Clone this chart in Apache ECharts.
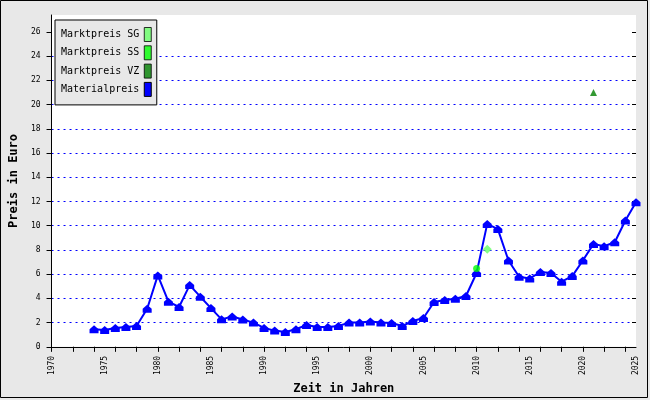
<!DOCTYPE html>
<html>
<head>
<meta charset="utf-8">
<script src="https://cdn.jsdelivr.net/npm/echarts@6/dist/echarts.min.js"></script>
<style>
html,body{margin:0;padding:0;background:#e8e8e8;}
#c{width:650px;height:400px;}
</style>
</head>
<body>
<div id="c"></div>
<script>
var years = [1974,1975,1976,1977,1978,1979,1980,1981,1982,1983,1984,1985,1986,1987,1988,1989,1990,1991,1992,1993,1994,1995,1996,1997,1998,1999,2000,2001,2002,2003,2004,2005,2006,2007,2008,2009,2010,2011,2012,2013,2014,2015,2016,2017,2018,2019,2020,2021,2022,2023,2024,2025];
var materialpreis = [1.45,1.39,1.56,1.64,1.72,3.15,5.9,3.73,3.29,5.1,4.14,3.2,2.27,2.5,2.25,2.0,1.56,1.34,1.23,1.45,1.8,1.64,1.64,1.72,2.0,2.0,2.1,2.0,1.97,1.72,2.13,2.38,3.7,3.86,3.97,4.2,6.1,10.15,9.72,7.13,5.79,5.65,6.17,6.09,5.38,5.84,7.13,8.5,8.31,8.64,10.43,11.94];
var sgYears = [2011], sgValues = [8.05];
var ssYears = [2010], ssValues = [6.47];
var vzYears = [2021], vzValues = [21.0];
var xTickValues = [1970,1972,1974,1976,1978,1980,1982,1984,1986,1988,1990,1992,1994,1996,1998,2000,2002,2004,2006,2008,2010,2012,2014,2016,2018,2020,2022,2024];
var xLabelValues = [1970,1975,1980,1985,1990,1995,2000,2005,2010,2015,2020,2025];
var yTickValues = [0,2,4,6,8,10,12,14,16,18,20,22,24,26];
var seriesNames = ['Marktpreis SG','Marktpreis SS','Marktpreis VZ','Materialpreis'];

function pairs(xs, ys){ return xs.map(function(x,i){ return [x, ys[i]]; }); }

var mono = "'DejaVu Sans Mono', monospace";
var chart = echarts.init(document.getElementById('c'), null, {renderer:'canvas'});
var grid = {left:43, right:14, top:15, bottom:52, show:true, backgroundColor:'#fff', borderWidth:0};
var xBase = {type:'value', min:1970, max:2025, interval:1, gridIndex:0};
var yBase = {type:'value', min:0, max:27.4, interval:2, gridIndex:0};

chart.setOption({
  backgroundColor:'#e8e8e8',
  animation:false,
  graphic:[{type:'rect', shape:{x:0.5,y:0.5,width:647,height:397}, style:{fill:null, stroke:'#000', lineWidth:1}, z:100}],
  grid:grid,
  legend:{
    orient:'vertical', left:55, top:20, align:'right', icon:'rect',
    itemWidth:7, itemHeight:14, itemGap:3.3,
    padding:[7,5,8,6],
    backgroundColor:'#e8e8e8', borderColor:'#000', borderWidth:1,
    itemStyle:{borderColor:'#000', borderWidth:1},
    textStyle:{fontFamily:mono, fontSize:10, color:'#000', padding:[0,0,0,0]},
    data:seriesNames
  },
  xAxis:[
    Object.assign({}, xBase, {
      name:'Zeit in Jahren', nameLocation:'middle', nameGap:34,
      nameTextStyle:{fontFamily:mono, fontSize:12, fontWeight:'bold', color:'#000'},
      axisLine:{show:true, onZero:false, lineStyle:{color:'#000', width:1}},
      axisTick:{show:true, length:5, customValues:xTickValues, lineStyle:{color:'#000'}},
      axisLabel:{show:true, rotate:90, margin:9, customValues:xLabelValues, fontFamily:mono, fontSize:8, color:'#000',
                 formatter:function(v){ return String(v); }},
      splitLine:{show:false}
    }),
    Object.assign({}, xBase, {
      axisLine:{show:false}, axisLabel:{show:false}, splitLine:{show:false},
      axisTick:{show:true, inside:true, length:4, customValues:xTickValues, lineStyle:{color:'#000'}}
    })
  ],
  yAxis:[
    Object.assign({}, yBase, {
      name:'Preis in Euro', nameLocation:'middle', nameGap:25,
      nameTextStyle:{fontFamily:mono, fontSize:12, fontWeight:'bold', color:'#000'},
      axisLine:{show:true, onZero:false, lineStyle:{color:'#000', width:1}},
      axisTick:{show:true, length:5, customValues:yTickValues, lineStyle:{color:'#000'}},
      axisLabel:{show:true, margin:11, customValues:yTickValues, fontFamily:mono, fontSize:8, color:'#000'},
      splitLine:{show:true, showMinLine:false, showMaxLine:false, lineStyle:{color:'#0000ff', type:[2,4], width:1}}
    }),
    Object.assign({}, yBase, {
      axisLine:{show:false}, axisLabel:{show:false}, splitLine:{show:false},
      axisTick:{show:true, inside:true, length:4, customValues:yTickValues, lineStyle:{color:'#000'}}
    })
  ],
  series:[
    {name:'Materialpreis', type:'line', xAxisIndex:0, yAxisIndex:0, data:pairs(years, materialpreis),
     color:'#0000ff', lineStyle:{color:'#0000ff', width:2},
     symbol:'path://M0,4 L4,0 L8,4 L8,8 L0,8 Z', symbolSize:[9,8], showAllSymbol:true,
     itemStyle:{color:'#0000ff'}, z:2},
    {name:'Marktpreis SG', type:'scatter', data:pairs(sgYears, sgValues), symbol:'diamond', symbolSize:9,
     color:'#66ff66', itemStyle:{color:'#66ff66'}, z:5},
    {name:'Marktpreis SS', type:'scatter', data:pairs(ssYears, ssValues), symbol:'circle', symbolSize:7,
     color:'#00ff00', itemStyle:{color:'#00ff00'}, z:5},
    {name:'Marktpreis VZ', type:'scatter', data:pairs(vzYears, vzValues), symbol:'triangle', symbolSize:7,
     color:'#008000', itemStyle:{color:'#008000'}, z:5}
  ]
});
</script>
</body>
</html>
